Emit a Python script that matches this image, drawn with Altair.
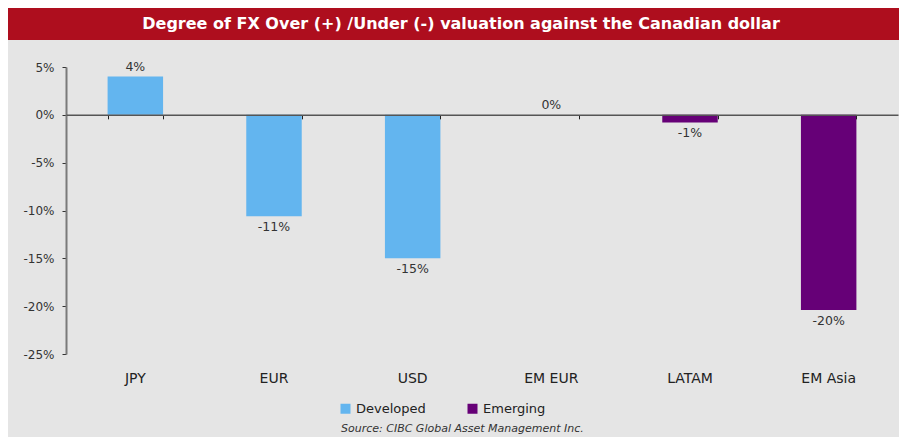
import altair as alt
import pandas as pd

categories = ["JPY", "EUR", "USD", "EM EUR", "LATAM", "EM Asia"]
values = [4.0, -10.6, -15.0, 0.0, -0.8, -20.4]
groups = ["Developed", "Developed", "Developed", "Emerging", "Emerging", "Emerging"]
group_names = ["Developed", "Emerging"]
group_colors = ["#63B5EF", "#660077"]
y_ticks = [5, 0, -5, -10, -15, -20, -25]
title_text = "Degree of FX Over (+) /Under (-) valuation against the Canadian dollar"
source_text = "Source: CIBC Global Asset Management Inc."

df = pd.DataFrame({"cat": categories, "val": values, "group": groups})

FONT = "DejaVu Sans"
W, H = 832, 287
ZERO_OFFSET = -(H * 25 / 30)
LABEL_EXPR = "(datum.val < 0 ? '-' : '') + format(abs(datum.val), '.0f') + '%'"

xscale = alt.Scale(domain=categories, paddingInner=0.6, paddingOuter=0.3)
yscale = alt.Scale(domain=[-25, 5], nice=False, zero=False)

base = alt.Chart(df)

bars = base.mark_bar().encode(
    x=alt.X("cat:N", sort=categories, scale=xscale,
            axis=alt.Axis(title=None, orient="bottom", labelAngle=0, domain=False, ticks=False,
                          labelPadding=17, labelFontSize=14, labelColor="#222222", labelFont=FONT)),
    y=alt.Y("val:Q", scale=yscale,
            axis=alt.Axis(title=None, values=y_ticks, labelExpr="datum.value + '%'", grid=False,
                          domainColor="#7a7a7a", domainWidth=2, tickColor="#333333", tickSize=4,
                          labelFontSize=12, labelColor="#333333", labelFont=FONT, labelPadding=8)),
    color=alt.Color("group:N", scale=alt.Scale(domain=group_names, range=group_colors),
                    legend=alt.Legend(title=None, orient="none", legendX=273, legendY=335,
                                      direction="horizontal", symbolType="square", symbolSize=100,
                                      symbolStrokeWidth=0, labelFontSize=13, labelFont=FONT,
                                      labelColor="#222222", columnPadding=40, symbolOffset=0,
                                      labelOffset=4)),
)

pos_labels = base.transform_filter("datum.val >= 0").transform_calculate(
    label=LABEL_EXPR
).mark_text(baseline="bottom", dy=-3, fontSize=12.5, font=FONT, color="#333333").encode(
    x=alt.X("cat:N", sort=categories, scale=xscale,
            axis=alt.Axis(title=None, orient="bottom", labels=False, domain=True, ticks=True,
                          tickBand="extent", tickSize=4, tickColor="#222222", domainColor="#555555",
                          domainWidth=1.5, offset=ZERO_OFFSET, zindex=1)),
    y=alt.Y("val:Q", scale=yscale),
    text="label:N",
)

neg_labels = base.transform_filter("datum.val < 0").transform_calculate(
    label=LABEL_EXPR
).mark_text(baseline="top", dy=5, fontSize=12.5, font=FONT, color="#333333").encode(
    x=alt.X("cat:N", sort=categories, scale=xscale, axis=None),
    y=alt.Y("val:Q", scale=yscale),
    text="label:N",
)

band = alt.Chart(pd.DataFrame({"t": [title_text]})).mark_rect(color="#AE0E1E").encode(
    x=alt.value(-58), x2=alt.value(W + 1), y=alt.value(-59), y2=alt.value(-27)
)
title = alt.Chart(pd.DataFrame({"t": [title_text]})).mark_text(
    color="white", fontSize=16, fontWeight="bold", font=FONT, baseline="middle", align="center"
).encode(x=alt.value(395), y=alt.value(-43), text="t:N")

source = alt.Chart(pd.DataFrame({"t": [source_text]})).mark_text(
    color="#333333", fontSize=11, fontStyle="italic", font=FONT, baseline="middle", align="left"
).encode(x=alt.value(275), y=alt.value(362), text="t:N")

chart = alt.layer(bars, pos_labels, neg_labels, band, title, source).resolve_axis(
    x="independent"
).properties(
    width=W, height=H,
    padding={"left": 58, "top": 59, "right": 1, "bottom": 83},
    autosize=alt.AutoSizeParams(type="none"),
    background="#E5E5E5",
).configure_view(stroke=None)

chart.save("out.html", embed_options={"renderer": "svg", "actions": False})
